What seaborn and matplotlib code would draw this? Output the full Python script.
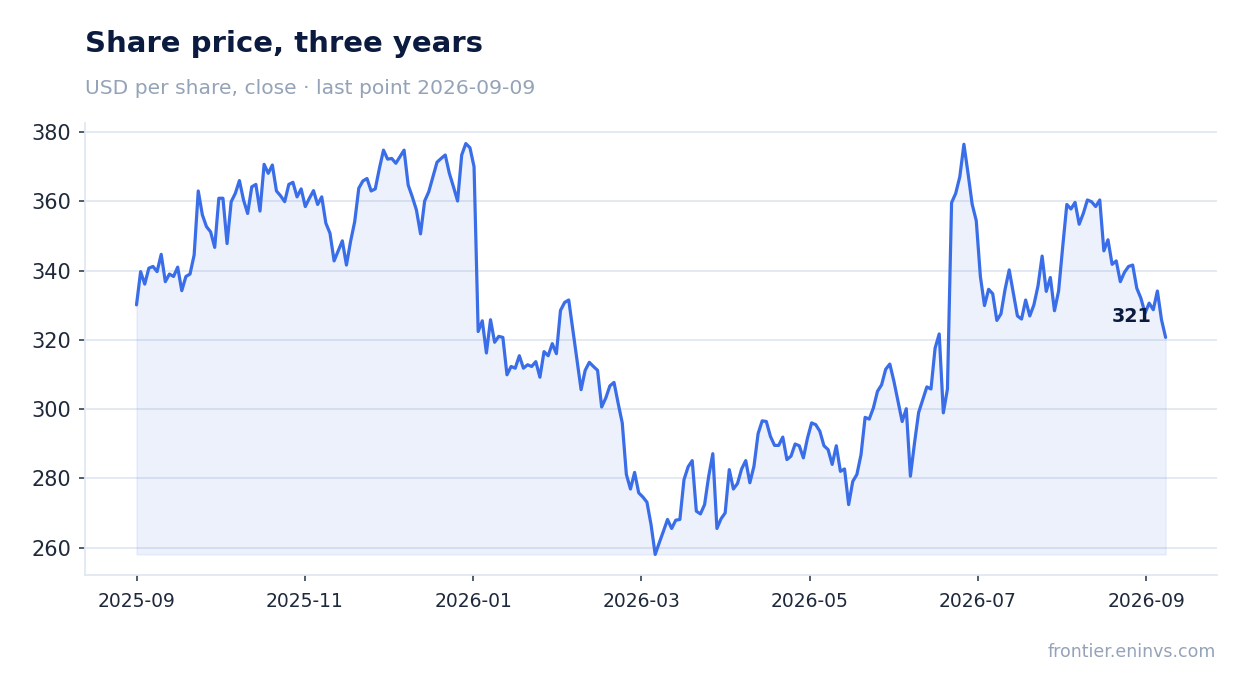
import matplotlib
matplotlib.use("Agg")
import matplotlib.pyplot as plt
import matplotlib.dates as mdates
import pandas as pd
import seaborn as sns

# Closing prices, roughly one point every 1.5 days.
start_date = "2025-09-01"
end_date = "2026-09-09"
close = [
    330.1, 339.7, 336.1, 340.7, 341.2, 339.7, 344.7, 336.8, 339.0, 338.3,
    341.0, 334.2, 338.3, 339.0, 344.5, 363.0, 356.1, 352.7, 351.2, 346.7,
    360.9, 360.9, 347.8, 359.9, 362.3, 366.0, 360.4, 356.5, 364.2, 364.9,
    357.2, 370.7, 368.1, 370.5, 363.0, 361.6, 359.9, 364.9, 365.5, 361.3,
    363.6, 358.5, 360.9, 363.1, 359.1, 361.3, 353.7, 350.8, 342.8, 345.7,
    348.6, 341.6, 348.4, 354.1, 363.8, 365.9, 366.6, 363.0, 363.6, 369.5,
    374.8, 372.2, 372.4, 371.0, 372.9, 374.8, 364.7, 361.3, 357.5, 350.6,
    360.1, 362.8, 367.1, 371.3, 372.4, 373.4, 368.1, 364.2, 360.1, 373.4,
    376.7, 375.5, 370.0, 322.4, 325.5, 316.2, 325.8, 319.3, 321.0, 320.7,
    309.9, 312.3, 311.8, 315.4, 311.8, 312.8, 312.3, 313.7, 309.2, 316.6,
    315.4, 318.9, 316.0, 328.5, 330.8, 331.5, 322.9, 314.2, 305.6, 311.2,
    313.5, 312.3, 311.2, 300.6, 303.2, 306.7, 307.7, 301.7, 296.0, 281.1,
    276.9, 281.7, 275.8, 274.6, 273.1, 266.6, 258.0, 261.4, 264.7, 268.1,
    265.5, 267.9, 268.1, 279.6, 283.3, 285.1, 270.5, 269.7, 272.4, 280.6,
    287.1, 265.5, 268.3, 270.0, 282.5, 276.9, 278.5, 282.7, 285.1, 278.7,
    283.5, 292.9, 296.6, 296.4, 292.1, 289.5, 289.5, 291.9, 285.4, 286.4,
    289.9, 289.4, 285.9, 291.6, 296.0, 295.5, 293.6, 289.4, 288.3, 284.0,
    289.4, 282.0, 282.7, 272.4, 279.1, 281.1, 286.8, 297.6, 297.1, 300.3,
    305.1, 307.0, 311.5, 313.0, 308.0, 302.2, 296.4, 300.1, 280.6, 290.2,
    299.0, 302.7, 306.4, 305.8, 317.6, 321.7, 298.9, 305.8, 359.6, 362.3,
    367.1, 376.5, 368.1, 359.2, 354.4, 338.3, 329.9, 334.6, 333.3, 325.6,
    327.5, 334.6, 340.2, 333.6, 326.9, 326.0, 331.5, 326.9, 330.1, 335.6,
    344.2, 334.0, 338.0, 328.4, 334.1, 346.9, 359.1, 357.8, 359.7, 353.4,
    356.5, 360.4, 359.9, 358.5, 360.4, 345.7, 348.9, 341.8, 342.8, 336.8,
    339.5, 341.2, 341.6, 334.9, 332.0, 327.7, 330.6, 328.7, 334.1, 325.8,
    320.7,
]
dates = pd.date_range(start_date, end_date, periods=len(close))
df = pd.DataFrame({"date": dates, "close": close})

y_ticks = [260, 280, 300, 320, 340, 360, 380]
# x ticks sit every 61 days from the first point, labelled by month
x_ticks = pd.date_range(start_date, periods=7, freq="61D")

navy = "#0b1b3f"
blue = "#3a6ee8"
grey = "#94a3b8"
light = "#e2e8f0"

sns.set_theme(style="white")
plt.rcParams["font.family"] = ["DejaVu Sans"]

fig = plt.figure(figsize=(12.47, 6.93), dpi=100)
ax = fig.add_axes([0.0682, 0.1703, 0.9078, 0.6522])

# Area under the line, then the line itself.
ax.fill_between(df["date"], df["close"], df["close"].min(),
                color=blue, alpha=0.09, linewidth=1)
sns.lineplot(data=df, x="date", y="close", color=blue, linewidth=2.3, ax=ax)

ax.set_yticks(y_ticks)
ax.set_xticks(x_ticks)
ax.xaxis.set_major_formatter(mdates.DateFormatter("%Y-%m"))
ax.yaxis.grid(True, color=light, linewidth=1.3)
ax.xaxis.grid(False)
ax.set_axisbelow(True)
ax.set_xlabel("")
ax.set_ylabel("")

for side in ["top", "right"]:
    ax.spines[side].set_visible(False)
for side in ["left", "bottom"]:
    ax.spines[side].set_color(light)
    ax.spines[side].set_linewidth(1.3)

ax.tick_params(axis="both", which="major", length=4, width=1.2,
               color="#334155", labelcolor="#1e293b", direction="out",
               left=True, bottom=True)
ax.tick_params(axis="y", labelsize=15, pad=6)
ax.tick_params(axis="x", labelsize=13.5, pad=8)

# Label on the last close.
ax.annotate(f"{close[-1]:.0f}", xy=(df["date"].iloc[-1], close[-1]),
            xytext=(-14, 21), textcoords="offset pixels",
            ha="right", va="center", fontsize=13.8, fontweight="bold", color=navy)

fig.text(0.0682, 0.9365, "Share price, three years", fontsize=21,
         fontweight="bold", color=navy, ha="left", va="center")
fig.text(0.0682, 0.873, "USD per share, close \u00b7 last point 2026-09-09",
         fontsize=14.6, color=grey, ha="left", va="center")
fig.text(0.975, 0.059, "frontier.eninvs.com", fontsize=12.5, color=grey,
         ha="right", va="center")

fig.savefig("out.png", dpi=100)
